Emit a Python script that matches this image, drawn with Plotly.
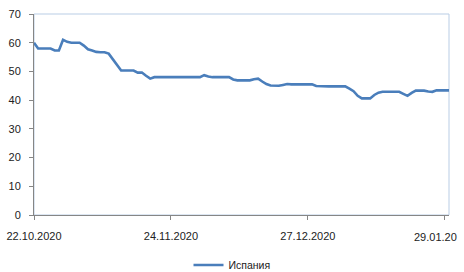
import datetime as dt
import plotly.graph_objects as go

start = dt.date(2020, 10, 22)
values = [60, 58, 58, 58, 58, 57.3, 57.3, 61, 60.3, 60,
          60, 60, 59, 57.7, 57.3, 56.8, 56.7, 56.7, 56.2, 54.3,
          52.3, 50.3, 50.3, 50.3, 50.3, 49.6, 49.6, 48.5, 47.5, 48,
          48, 48, 48, 48, 48, 48, 48, 48, 48, 48,
          48, 48.7, 48.2, 48, 48, 48, 48, 48, 47.2, 46.9,
          46.9, 46.9, 46.9, 47.3, 47.5, 46.5, 45.6, 45.1, 45, 45,
          45.3, 45.6, 45.5, 45.5, 45.5, 45.5, 45.5, 45.5, 44.9, 44.8,
          44.8, 44.8, 44.8, 44.8, 44.8, 44.8, 44, 43.1, 41.5, 40.6,
          40.6, 40.6, 41.8, 42.6, 42.9, 42.9, 42.9, 42.9, 42.9, 42.2,
          41.5, 42.5, 43.3, 43.3, 43.3, 43.0, 42.9, 43.4, 43.4, 43.4,
          43.4]
dates = [start + dt.timedelta(days=i) for i in range(len(values))]
tick_dates = [dt.date(2020, 10, 22), dt.date(2020, 11, 24), dt.date(2020, 12, 27), dt.date(2021, 1, 29)]
tick_labels = ["22.10.2020", "24.11.2020", "27.12.2020", "29.01.20"]
y_ticks = [0, 10, 20, 30, 40, 50, 60, 70]
series_name = "Испания"

fig = go.Figure()
fig.add_trace(go.Scatter(x=dates, y=values, mode="lines", name=series_name,
                         line=dict(color="#4a7ebb", width=2.6)))

fig.add_shape(type="rect", xref="paper", yref="paper", x0=0, x1=1, y0=0, y1=1,
              line=dict(color="#b9cde5", width=1), layer="below")

# last tick label drawn as annotation so it stays inside the page
fig.add_annotation(x=tick_dates[-1], xref="x", y=0, yref="paper",
                   text=tick_labels[-1], showarrow=False,
                   xanchor="right", xshift=14, yanchor="middle", yshift=-22,
                   font=dict(family="Liberation Sans", size=11, color="#222"))

fig.update_layout(
    width=464, height=272,
    margin=dict(l=34, r=15, t=14, b=57, autoexpand=False),
    paper_bgcolor="white", plot_bgcolor="white",
    font=dict(family="Liberation Sans", size=11, color="#222"),
    showlegend=True,
    legend=dict(orientation="h", x=0.5, xanchor="center", xref="container",
                y=0.026, yanchor="middle", yref="container",
                font=dict(size=10.5), itemwidth=30),
)
fig.update_xaxes(type="date", range=[dt.date(2020, 10, 22), dt.date(2021, 1, 30)],
                 tickvals=tick_dates, ticktext=tick_labels[:-1] + [""], showgrid=False,
                 showline=True, linecolor="#868686", linewidth=1,
                 ticks="outside", ticklen=4, tickcolor="#868686",
                 ticklabelstandoff=7, zeroline=False, automargin=False,
                 ticklabeloverflow="allow")
fig.update_yaxes(range=[0, 70], tickvals=y_ticks, showgrid=False,
                 showline=True, linecolor="#868686", linewidth=1,
                 ticks="outside", ticklen=4, tickcolor="#868686",
                 ticklabelstandoff=6, zeroline=False, automargin=False,
                 ticklabeloverflow="allow")

fig.write_html("out.html", config={"displayModeBar": False},
               post_script="document.body.style.margin='0';document.body.style.overflow='hidden';")
